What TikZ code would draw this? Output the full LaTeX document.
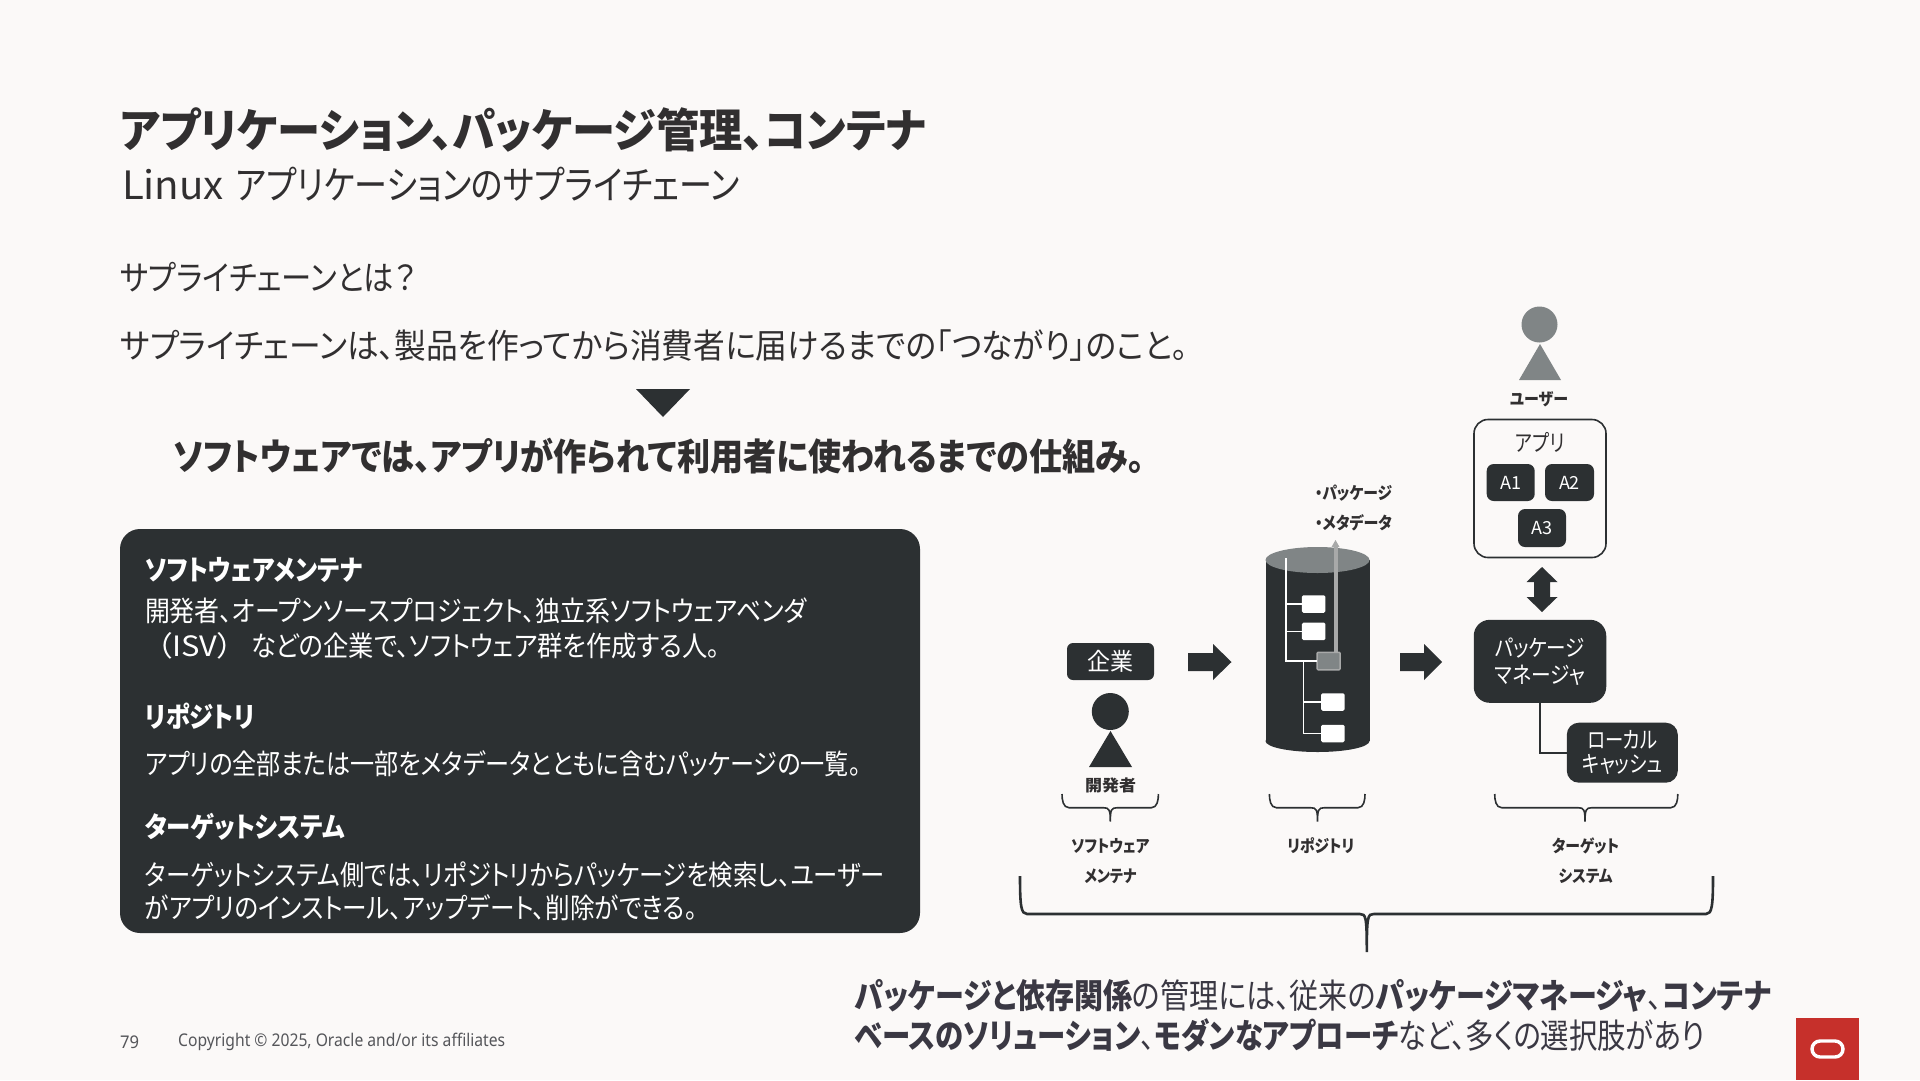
\documentclass[tikz,border=0pt]{standalone}
\usepackage{graphicx}
\usepackage{fontspec}
\setmainfont[RawFeature=+palt]{Noto Sans CJK JP}
\newfontfamily\footfont{Noto Sans}
\definecolor{bgc}{HTML}{FBF9F8}
\definecolor{dark}{HTML}{2C3032}
\definecolor{inkc}{HTML}{312F30}
\definecolor{bluish}{HTML}{3A3843}
\definecolor{greyc}{HTML}{808586}
\definecolor{lgrey}{HTML}{A8A9A9}
\definecolor{redc}{HTML}{C6302B}
\definecolor{footc}{HTML}{55565A}
\newcommand\fit[2]{\resizebox{#1pt}{\height}{#2}}
\newcommand\fs[1]{\fontsize{#1}{#1}\selectfont}
\newcommand\brk[7]{\draw[brace,line width=#7] (#1,#4) .. controls (#1,{#5-8}) and ({#1+1},#5) .. ({#1+7},#5) -- ({#2-7},#5) .. controls ({#2-1},#5) and (#2,{#5+2}) .. (#2,#6) .. controls (#2,{#5+2}) and ({#2+1},#5) .. ({#2+7},#5) -- ({#3-7},#5) .. controls ({#3-1},#5) and (#3,{#5-8}) .. (#3,#4);}
\tikzset{
 x=1pt,y=-1pt,
 txt/.style={inner sep=0,outer sep=0,anchor=west,text=inkc},
 wtxt/.style={inner sep=0,outer sep=0,anchor=west,text=white},
 ctxt/.style={inner sep=0,outer sep=0,anchor=center,text=inkc},
 btn/.style={fill=dark,text=white,inner sep=0,outer sep=0,rounded corners=#1},
 btn/.default=7pt,
 sq/.style={fill=white,inner sep=0,outer sep=0,minimum width=23.5pt,minimum height=17.5pt,rounded corners=1.5pt},
 brace/.style={draw=dark,line cap=butt},
 tree/.style={draw=white,line width=1.6pt},
}
\begin{document}
\begin{tikzpicture}
\useasboundingbox (0,0) rectangle (1920,1080);
\fill[bgc] (0,0) rectangle (1920,1080);
% headings
\node[txt] (title) at (120,130) {\fs{46}\bfseries\fit{806}{アプリケーション、パッケージ管理、コンテナ}};
\node[txt] (sub) at (122,184) {\fs{39}\fit{102}{Linux}\hspace{12pt}\fit{504}{アプリケーションのサプライチェーン}};
\node[txt] (q) at (120,277) {\fs{34}\fit{296}{サプライチェーンとは？}};
\node[txt] (def) at (120,346) {\fs{34}\fit{1068}{サプライチェーンは、製品を作ってから消費者に届けるまでの「つながり」のこと。}};
\fill[dark] (636,389) -- (690,389) -- (663,417) -- cycle;
\node[txt] (soft) at (173,456) {\fs{37}\bfseries\fit{972}{ソフトウェアでは、アプリが作られて利用者に使われるまでの仕組み。}};
% dark panel
\node[btn=20pt,minimum width=800pt,minimum height=404pt] (panel) at (520,731) {};
\node[wtxt] (h1) at (145,570) {\fs{28}\bfseries\fit{217}{ソフトウェアメンテナ}};
\node[wtxt] (p1a) at (145,611) {\fs{28}\fit{662}{開発者、オープンソースプロジェクト、独立系ソフトウェアベンダ}};
\node[wtxt] (p1b) at (157,646) {\fs{28}\fit{76}{（ISV）}\hspace{18pt}\fit{469}{などの企業で、ソフトウェア群を作成する人。}};
\node[wtxt] (h2) at (145,716) {\fs{28}\bfseries\fit{110}{リポジトリ}};
\node[wtxt] (p2) at (145,764) {\fs{28}\fit{716}{アプリの全部または一部をメタデータとともに含むパッケージの一覧。}};
\node[wtxt] (h3) at (145,827) {\fs{28}\bfseries\fit{200}{ターゲットシステム}};
\node[wtxt] (p3a) at (145,875) {\fs{28}\fit{740}{ターゲットシステム側では、リポジトリからパッケージを検索し、ユーザー}};
\node[wtxt] (p3b) at (145,908) {\fs{28}\fit{552}{がアプリのインストール、アップデート、削除ができる。}};
% footer
\node[inner sep=0,anchor=west,text=footc] (pg) at (120,1042) {\footfont\fs{17.5}\fit{19}{79}};
\node[inner sep=0,anchor=west,text=footc] (copy) at (178,1042) {\footfont\fs{17.5}\fit{327}{Copyright © 2025, Oracle and/or its affiliates}};
% developer
\node[btn=6pt,minimum width=87pt,minimum height=37pt] (corp) at (1110.5,661.5) {\fs{24}\fit{46}{企業}};
\fill[dark] (1110.3,711.5) circle (18.5);
\fill[dark] (1110.5,731) -- (1132,767) -- (1089,767) -- cycle;
\node[ctxt] (dev) at (1110.5,785.5) {\fs{16}\bfseries\fit{51}{開発者}};
% block arrows
\coordinate (a1) at (1188,662);
\coordinate (a2) at (1400,662);
\fill[dark] (a1) ++(0,-9) -- ++(25,0) -- ++(0,-9) -- ++(18.5,18) -- ++(-18.5,18) -- ++(0,-9) -- ++(-25,0) -- cycle;
\fill[dark] (a2) ++(0,-9) -- ++(24,0) -- ++(0,-9) -- ++(18,18) -- ++(-18,18) -- ++(0,-9) -- ++(-24,0) -- cycle;
% repository cylinder
\fill[dark] (1317.5,741) ellipse [x radius=52,y radius=11];
\fill[dark] (1265.5,560) rectangle (1369.5,741);
\fill[greyc] (1317.5,560) ellipse [x radius=52,y radius=13];
\node[sq] (s1) at (1313.7,604) {};
\node[sq] (s2) at (1313.7,631.3) {};
\node[sq,fill=greyc,draw=lgrey,line width=1.5pt,minimum width=23pt,minimum height=17.5pt,rounded corners=1pt] (sg) at (1328.6,661) {};
\node[sq] (s3) at (1332.8,702) {};
\node[sq] (s4) at (1332.8,733.5) {};
\coordinate (trunk) at (1286,558);
\coordinate (trunkb) at (1303.4,661);
\draw[tree] (trunk) |- (s1.west);
\draw[tree] (trunk) |- (s2.west);
\draw[tree] (trunk) |- (sg.west);
\draw[tree] (trunkb) |- (s3.west);
\draw[tree] (trunkb) |- (s4.west);
\coordinate (tipm) at (1335.5,540);
\draw[lgrey,line width=4pt] (sg.north -| tipm) -- (1335.5,546);
\fill[lgrey] (tipm) -- (1339.5,547) -- (1331.5,547) -- cycle;
\node[ctxt,anchor=west] (l1) at (1315,493) {\fs{17}\bfseries\fit{77}{・パッケージ}};
\node[ctxt,anchor=west] (l2) at (1315,523) {\fs{17}\bfseries\fit{77}{・メタデータ}};
% user and apps
\fill[greyc] (1539.5,324.5) circle (18);
\fill[greyc] (1540,344) -- (1561,380) -- (1519,380) -- cycle;
\node[ctxt] (user) at (1539,399) {\fs{17}\bfseries\fit{58}{ユーザー}};
\node[draw=dark,line width=1.6pt,fill=bgc,rounded corners=14pt,minimum width=132pt,minimum height=138pt,inner sep=0,outer sep=0] (appbox) at (1540,488.5) {};
\node[ctxt] (apptitle) at (1540,442) {\fs{23}\fit{49}{アプリ}};
\node[btn,minimum width=48pt,minimum height=37pt] (A1) at (1510.7,482.5) {\fs{18}\fit{21}{A1}};
\node[btn,minimum width=49pt,minimum height=37pt] (A2) at (1569.5,482.5) {\fs{18}\fit{21}{A2}};
\node[btn,minimum width=48pt,minimum height=38pt] (A3) at (1542,528) {\fs{18}\fit{21}{A3}};
\coordinate (updown) at (1542,589.5);
\fill[dark] (updown) ++(0,-22.5) -- ++(15.5,15) -- ++(-7.5,0) -- ++(0,15) -- ++(7.5,0) -- ++(-15.5,15) -- ++(-15.5,-15) -- ++(7.5,0) -- ++(0,-15) -- ++(-7.5,0) -- cycle;
\node[btn=16pt,minimum width=132.5pt,minimum height=83pt,align=center] (pm) at (1540,661.3) {\fs{23}\fit{90}{パッケージ}\\[6pt]\fs{23}\fit{90}{マネージャ}};
\node[btn=12pt,minimum width=111pt,minimum height=60pt,align=center] (cache) at (1622.3,752.7) {\fs{23}\fit{70}{ローカル}\\[4pt]\fs{23}\fit{80}{キャッシュ}};
\draw[dark,line width=1.6pt] (pm.south) |- (cache.west);
% small braces
\brk{1062}{1110.3}{1158.4}{794}{807.7}{821.7}{1.6pt}
\brk{1269.4}{1317.5}{1365}{794}{807.7}{821.7}{1.6pt}
\brk{1494.7}{1585}{1677.8}{794}{807.7}{821.7}{1.6pt}
\node[ctxt] (b1a) at (1110.3,846) {\fs{17}\bfseries\fit{78}{ソフトウェア}};
\node[ctxt] (b1b) at (1110.3,876) {\fs{17}\bfseries\fit{52}{メンテナ}};
\node[ctxt] (b2a) at (1320.8,846) {\fs{17}\bfseries\fit{67}{リポジトリ}};
\node[ctxt] (b3a) at (1585.6,846) {\fs{17}\bfseries\fit{67}{ターゲット}};
\node[ctxt] (b3b) at (1585.6,876) {\fs{17}\bfseries\fit{54}{システム}};
% big brace
\brk{1020}{1366.8}{1713}{876}{914}{952}{2.6pt}
% conclusion
\node[txt,text=bluish] (c1) at (855,996) {\fs{34}\fit{916}{\textbf{パッケージと依存関係}の管理には、従来の\textbf{パッケージマネージャ}、\textbf{コンテナ}}};
\node[txt,text=bluish] (c2) at (855,1035) {\fs{34}\fit{850}{\textbf{ベースのソリューション}、\textbf{モダンなアプローチ}など、多くの選択肢があり}};
% logo
\fill[redc] (1796,1018) rectangle (1859,1080);
\node[draw=white,line width=3.4pt,rounded corners=8pt,minimum width=31pt,minimum height=16pt,inner sep=0] (logo) at (1827.5,1049) {};
\end{tikzpicture}
\end{document}
